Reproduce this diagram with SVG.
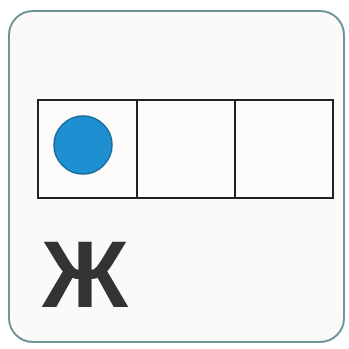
<svg xmlns="http://www.w3.org/2000/svg" width="349" height="349" viewBox="0 0 349 349">
<style>
.cell{fill:#fefcfb;stroke:#222;stroke-width:2}
</style>
<rect x="0" y="0" width="349" height="349" fill="#ffffff"/>
<g id="card">
<rect x="9" y="11" width="335" height="331" rx="24" fill="#fcfaf8" stroke="#6f9496" stroke-width="2"/>
</g>
<g id="cells">
<rect class="cell" x="38" y="100" width="99" height="98"/>
<rect class="cell" x="137" y="100" width="98" height="98"/>
<rect class="cell" x="235" y="100" width="98" height="98"/>
</g>
<g id="dot">
<circle cx="83" cy="145" r="29" fill="#1e8fd0" stroke="#176b9c" stroke-width="1.5"/>
</g>
<g id="letter">
<text x="85" y="307" text-anchor="middle" font-family="Liberation Sans, Arial, sans-serif" font-weight="bold" font-size="95" fill="#333">Ж</text>
</g>
</svg>
